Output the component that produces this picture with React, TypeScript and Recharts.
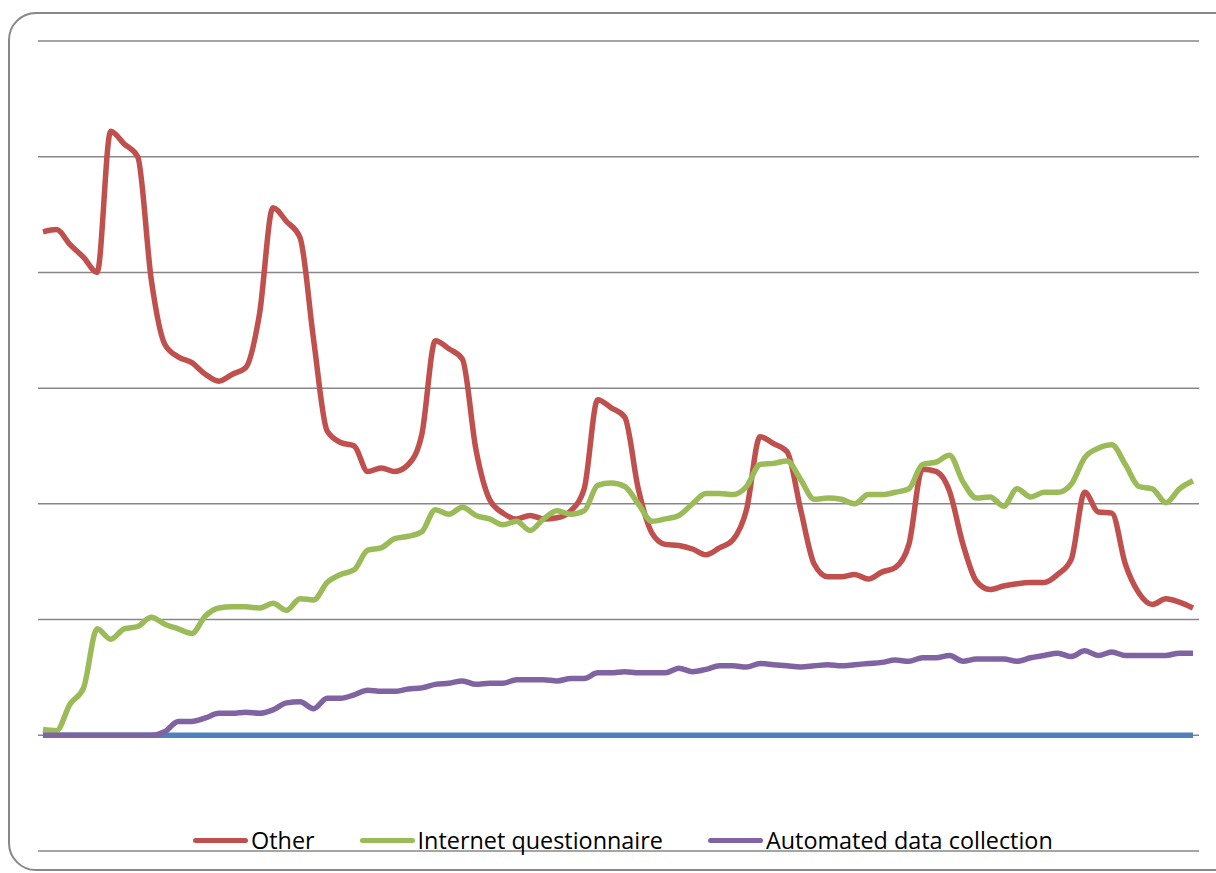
import React from "react";
import { LineChart, Line, XAxis, YAxis, CartesianGrid } from "recharts";

// monthly shares (86 periods)
const other = [
  43.5, 43.7, 42.4, 41.3, 40.0, 52.2, 51.1, 50.0, 39.4, 33.8,
  32.7, 32.2, 31.2, 30.6, 31.2, 31.8, 36.4, 45.6, 44.4, 43.0,
  34.2, 26.3, 25.3, 25.0, 22.8, 23.1, 22.8, 23.4, 26.0, 34.1,
  33.4, 32.5, 24.7, 20.4, 19.2, 18.7, 19.0, 18.7, 18.8, 19.4,
  21.3, 29.0, 28.3, 27.5, 21.3, 17.5, 16.5, 16.4, 16.1, 15.6,
  16.2, 16.9, 19.5, 25.8, 25.2, 24.5, 19.5, 14.8, 13.7, 13.7,
  13.9, 13.5, 14.1, 14.5, 16.5, 23.0, 22.8, 21.1, 16.5, 13.3,
  12.6, 12.9, 13.1, 13.2, 13.2, 13.9, 15.2, 21.0, 19.3, 19.2,
  14.8, 12.3, 11.3, 11.8, 11.5, 11.0,
];

const internet = [
  0.5, 0.4, 2.7, 4.1, 9.2, 8.3, 9.2, 9.4, 10.2, 9.6,
  9.2, 8.8, 10.3, 11.0, 11.1, 11.1, 11.0, 11.4, 10.8, 11.8,
  11.7, 13.2, 13.9, 14.3, 16.0, 16.2, 17.0, 17.2, 17.6, 19.5,
  19.1, 19.7, 19.0, 18.7, 18.2, 18.5, 17.7, 18.7, 19.4, 19.1,
  19.4, 21.6, 21.8, 21.5, 20.0, 18.5, 18.7, 19.0, 20.0, 20.9,
  20.9, 20.8, 21.5, 23.4, 23.5, 23.7, 22.1, 20.4, 20.5, 20.4,
  20.0, 20.8, 20.8, 21.0, 21.3, 23.4, 23.6, 24.2, 21.9, 20.5,
  20.6, 19.8, 21.3, 20.6, 21.0, 21.0, 21.7, 24.0, 24.8, 25.1,
  23.4, 21.5, 21.3, 20.1, 21.3, 22.0,
];

const automated = [
  0, 0, 0, 0, 0, 0, 0, 0, 0, 0.3,
  1.2, 1.2, 1.5, 1.9, 1.9, 2.0, 1.9, 2.2, 2.8, 2.9,
  2.3, 3.2, 3.2, 3.5, 3.9, 3.8, 3.8, 4.0, 4.1, 4.4,
  4.5, 4.7, 4.4, 4.5, 4.5, 4.8, 4.8, 4.8, 4.7, 4.9,
  4.9, 5.4, 5.4, 5.5, 5.4, 5.4, 5.4, 5.8, 5.5, 5.7,
  6.0, 6.0, 5.9, 6.2, 6.1, 6.0, 5.9, 6.0, 6.1, 6.0,
  6.1, 6.2, 6.3, 6.5, 6.4, 6.7, 6.7, 6.9, 6.4, 6.6,
  6.6, 6.6, 6.4, 6.7, 6.9, 7.1, 6.8, 7.3, 6.9, 7.2,
  6.9, 6.9, 6.9, 6.9, 7.1, 7.1,
];

// first series of the sheet, flat at zero and left out of the legend
const series1 = [
  0, 0, 0, 0, 0, 0, 0, 0, 0, 0,
  0, 0, 0, 0, 0, 0, 0, 0, 0, 0,
  0, 0, 0, 0, 0, 0, 0, 0, 0, 0,
  0, 0, 0, 0, 0, 0, 0, 0, 0, 0,
  0, 0, 0, 0, 0, 0, 0, 0, 0, 0,
  0, 0, 0, 0, 0, 0, 0, 0, 0, 0,
  0, 0, 0, 0, 0, 0, 0, 0, 0, 0,
  0, 0, 0, 0, 0, 0, 0, 0, 0, 0,
  0, 0, 0, 0, 0, 0,
];

const yTicks = [-10, 0, 10, 20, 30, 40, 50, 60];

const legendItems = [
  { name: "Other", color: "#C0504D" },
  { name: "Internet questionnaire", color: "#9BBB59" },
  { name: "Automated data collection", color: "#8064A2" },
];

const data = other.map((v, i) => ({
  idx: i + 1,
  series1: series1[i],
  other: v,
  internet: internet[i],
  automated: automated[i],
}));

const ChartLegend = () => (
  <div
    style={{
      position: "absolute",
      left: 193,
      top: 828,
      display: "flex",
      alignItems: "center",
      fontFamily: "'Open Sans', sans-serif",
      fontSize: 23.4,
      lineHeight: "24px",
      color: "#000",
    }}
  >
    {legendItems.map((it, i) => (
      <div
        key={it.name}
        style={{ display: "flex", alignItems: "center", marginLeft: i ? 45 : 0 }}
      >
        <span
          style={{
            display: "inline-block",
            width: 55,
            height: 5,
            borderRadius: 3,
            background: it.color,
            marginRight: 3,
          }}
        />
        <span>{it.name}</span>
      </div>
    ))}
  </div>
);

export default function App() {
  return (
    <div
      style={{
        position: "fixed",
        left: 0,
        top: 0,
        width: 1216,
        height: 873,
        overflow: "hidden",
        background: "#fff",
      }}
    >
      <div
        style={{
          position: "absolute",
          left: 8,
          top: 12,
          width: 1230,
          height: 855,
          border: "2px solid #888",
          borderRadius: 28,
        }}
      />
      <div style={{ position: "absolute", left: 0, top: 0 }}>
        <LineChart
          width={1216}
          height={873}
          data={data}
          margin={{ top: 41, right: 17, bottom: 22, left: 38 }}
        >
          <CartesianGrid vertical={false} stroke="#878787" strokeWidth={1.5} />
          <XAxis dataKey="idx" hide padding={{ left: 5, right: 6 }} />
          <YAxis hide domain={[-10, 60]} ticks={yTicks} />
          <Line
            type="linear"
            dataKey="series1"
            stroke="#4F81BD"
            strokeWidth={5.5}
            dot={false}
            isAnimationActive={false}
          />
          <Line
            type="monotone"
            dataKey="other"
            stroke="#C0504D"
            strokeWidth={5.5}
            dot={false}
            isAnimationActive={false}
          />
          <Line
            type="monotone"
            dataKey="internet"
            stroke="#9BBB59"
            strokeWidth={5.5}
            dot={false}
            isAnimationActive={false}
          />
          <Line
            type="monotone"
            dataKey="automated"
            stroke="#8064A2"
            strokeWidth={5.5}
            dot={false}
            isAnimationActive={false}
          />
        </LineChart>
      </div>
      <ChartLegend />
    </div>
  );
}
